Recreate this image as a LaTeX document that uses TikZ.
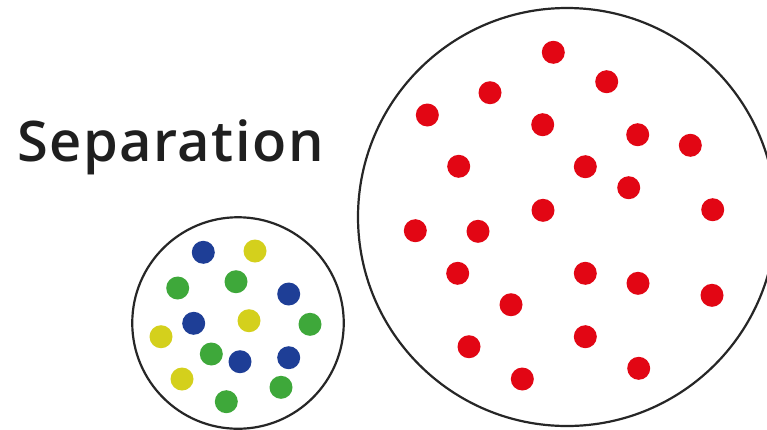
\documentclass[tikz,border=0pt]{standalone}
\usepackage{fontspec}
\setmainfont{Open Sans}[BoldFont={* Semibold},BoldFeatures={LetterSpace=2.6}]
\usepackage{tikz}

\definecolor{dotred}{RGB}{226,6,20}
\definecolor{dotblue}{RGB}{30,62,150}
\definecolor{dotyellow}{RGB}{212,208,28}
\definecolor{dotgreen}{RGB}{62,168,58}

\tikzset{
  vessel/.style={draw=black!85,line width=2.2pt,circle,inner sep=0pt},
  particle/.style={circle,inner sep=0pt,minimum size=23pt,fill=#1}
}

\begin{document}
\begin{tikzpicture}[x=1pt,y=-1pt]
% Frame
\clip (0,0) rectangle (767,429);
\fill[white] (0,0) rectangle (767,429);
% Title
\node[anchor=base west,inner sep=0pt,font=\fontsize{56}{60}\selectfont\bfseries,text=black!88] (title) at (17,161.5) {Separation};
% Containers
\node[vessel,minimum size=211.5pt] (mix) at (238,323) {};
\node[vessel,minimum size=418pt] (pure) at (567,217) {};
% Mixed particles
\foreach \px/\py/\pc [count=\i] in {
  203.3/252.3/dotblue, 255/251/dotyellow, 177.7/288/dotgreen, 236/281.7/dotgreen,
  288.7/294/dotblue, 193.7/323.3/dotblue, 249/320.7/dotyellow, 310/324.3/dotgreen,
  161/336.7/dotyellow, 211.3/354/dotgreen, 240/361.7/dotblue, 288.7/357.7/dotblue,
  182/379/dotyellow, 281/387.3/dotgreen, 226.3/401.7/dotgreen}
  \node[particle=\pc] (m\i) at (\px,\py) {};
% Separated particles
\foreach \px/\py [count=\i] in {
  553.3/52.3, 606.7/81.7, 490/92.7, 427.3/115, 542.7/124.7, 637.7/134.7,
  690.3/145.3, 458.7/166.3, 585.3/166.7, 628.7/187.7, 543/210.3, 712.7/209.7,
  415.3/230.7, 478/231.3, 457.7/273.3, 585.3/273.3, 638/283.3, 712/295.3,
  511/304.7, 585.3/336.7, 469/346.7, 638.7/368.3, 522.3/379}
  \node[particle=dotred] (r\i) at (\px,\py) {};
\end{tikzpicture}
\end{document}
